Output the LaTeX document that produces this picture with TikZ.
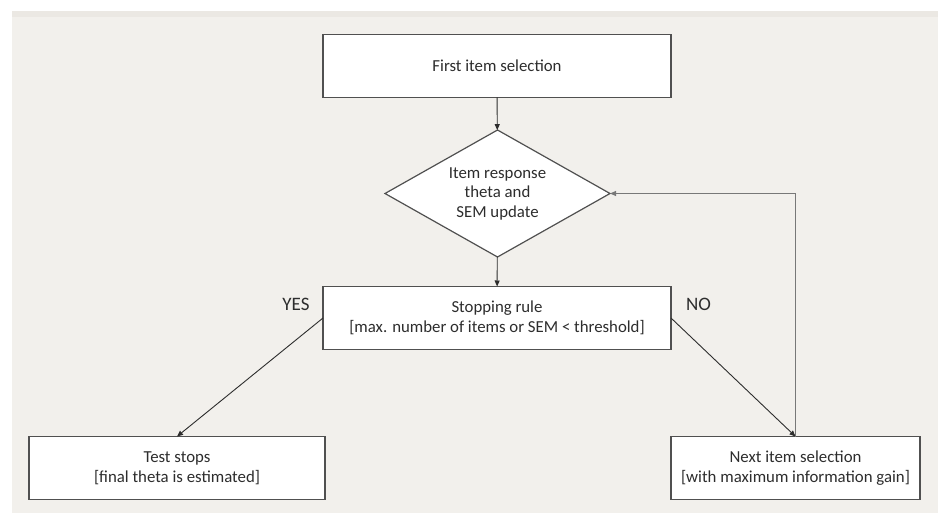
\documentclass[tikz,border=0pt]{standalone}
\usepackage{fontspec}
\setmainfont{Carlito}
\usetikzlibrary{arrows.meta,positioning,shapes.geometric}
\definecolor{paper}{RGB}{242,240,236}
\definecolor{band}{RGB}{235,232,227}
\definecolor{edge}{RGB}{80,80,80}
\definecolor{ink}{RGB}{45,45,45}
\definecolor{loopline}{RGB}{120,120,120}

\begin{document}
\begin{tikzpicture}[x=1pt,y=-1pt,
  box/.style={draw=edge,line width=1.5pt,fill=white,align=center,minimum height=63pt,inner sep=0pt,outer sep=0pt,text=ink,font=\fontsize{16.8}{20.5}\selectfont},
  decision/.style={diamond,draw=edge,line width=1.2pt,fill=white,align=center,minimum width=225pt,minimum height=127pt,aspect=1.77,inner sep=0pt,outer sep=0pt,text=ink,font=\fontsize{16.8}{19.5}\selectfont},
  link/.style={draw=ink,line width=0.9pt},
  tip/.style={-{Triangle[length=6pt,width=5pt]}},
  answer/.style={text=ink,font=\fontsize{19}{22}\selectfont}]
\useasboundingbox (0,0) rectangle (941,513);
% background
\fill[paper] (12,11) rectangle (938,513);
\fill[band] (12,11) rectangle (938,17);

\node[box,minimum width=348pt] (first) at (497,66) {First item selection};
\node[decision] (update) at (497.5,193.5) {Item response\\theta and\\SEM update};
\node[box,minimum width=348pt] (stop) at (497,318) {Stopping rule\\{}[max. number of items or SEM < threshold]};
\node[box,minimum width=296pt] (test) at (177,468) {Test stops\\{}[final theta is estimated]};
\node[box,minimum width=249pt] (next) at (795.5,468) {Next item selection\\{}[with maximum information gain]};
\node[answer] (yes) at (296,304.5) {YES};
\node[answer] (no) at (698.5,304.5) {NO};

\draw[link,tip] (first) -- (update);
\draw[link,tip] (update) -- (stop);
\draw[link,tip] (stop.west) -- (test.north);
\draw[link,tip] (stop.east) -- (next.north);
\draw[link,draw=loopline,tip] (next.north) |- (update.east);
\end{tikzpicture}
\end{document}
